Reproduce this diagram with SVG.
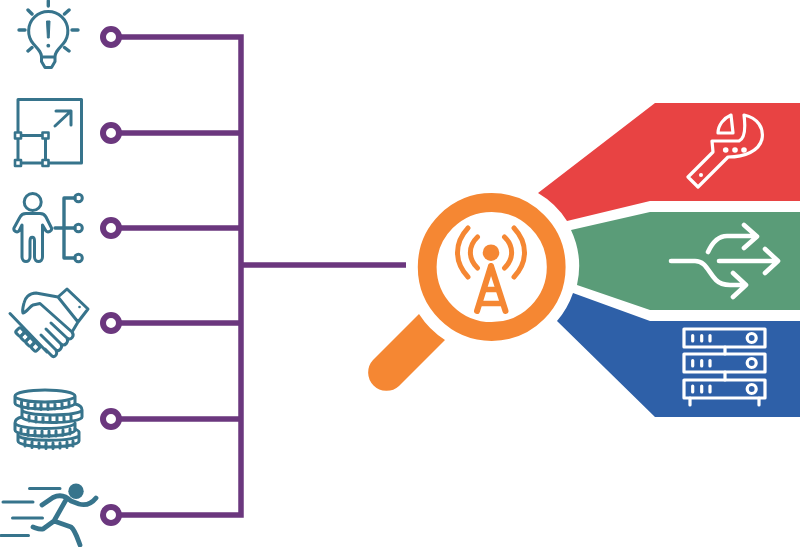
<svg xmlns="http://www.w3.org/2000/svg" width="800" height="547" viewBox="0 0 800 547">
<style>
.t{fill:none;stroke:#37748c;stroke-width:3;stroke-linecap:round;stroke-linejoin:round}
.tb{fill:none;stroke:#37748c;stroke-width:3.400;stroke-linecap:round;stroke-linejoin:round}
.w{fill:none;stroke:#fff;stroke-width:3.200;stroke-linecap:round;stroke-linejoin:round}
.wa{fill:none;stroke:#fff;stroke-width:4.600;stroke-linecap:round;stroke-linejoin:round}
.p{fill:none;stroke:#6b377e;stroke-width:5.500}
.n{fill:#fff;stroke:#6b377e;stroke-width:6}
.o{fill:none;stroke:#f58733;stroke-linecap:round;stroke-linejoin:round}
.s{fill:#fff;stroke:#37748c;stroke-width:2.600;stroke-linejoin:round}
.c{fill:#fff;stroke:#37748c;stroke-width:2.600}
</style>
<g id="connectors">
<path class="p" d="M113 37H241V515H113M113 133H241M113 228H241M113 323H241M113 419H241M241 265H406"/>
</g>
<g id="node-dots">
<circle class="n" cx="111" cy="37" r="8"/>
<circle class="n" cx="111" cy="133" r="8"/>
<circle class="n" cx="111" cy="228" r="8"/>
<circle class="n" cx="111" cy="323" r="8"/>
<circle class="n" cx="111" cy="419" r="8"/>
<circle class="n" cx="111" cy="515" r="8"/>
</g>
<g id="bulb">
<path class="t" d="M41.500 57C41.500 52 38 49 33.500 44A19.600 19.600 0 1 1 63 44C58.500 49 55 52 55 57ZM41.500 57V61.500L45 67.500H51.500L55 61.500V57"/>
<path class="tb" d="M48.300 1V6M28 10L32 14M69 10L64.500 14M19 30H25M72 30H78M28 51L32 47.500M69 51L64.500 47.500"/>
<path d="M46.500 21H50L49.200 38H47.400Z" fill="#37748c" stroke="#37748c" stroke-linejoin="round"/><circle cx="48.300" cy="45.700" r="1.900" fill="#37748c"/>
</g>
<g id="resize">
<path class="t" d="M18 135.500V99.500H81.500V163H45.500M18 135.500H45.500V163H18ZM55 126L71 111M56 111H71V125"/>
<rect class="s" x="15" y="132.500" width="6" height="6"/>
<rect class="s" x="42.500" y="132.500" width="6" height="6"/>
<rect class="s" x="15" y="160" width="6" height="6"/>
<rect class="s" x="42.500" y="160" width="6" height="6"/>
</g>
<g id="person">
<circle class="t" cx="32.700" cy="202" r="8.500"/>
<path class="t" d="M26 213.500H40C43 213.500 45 215 46 217L51.500 228C52.500 231 48 233 46 231L42.500 225V257C42.500 263 34.500 263 34.500 257V241C34.500 236 30 236 30 241V257C30 263 22 263 22 257V225L19 231C17 233 13 231 14 228L20 217C21 215 23 213.500 26 213.500Z"/>
<path class="tb" d="M55 228H75M75 198H64V258H75"/>
<circle class="t" cx="78.500" cy="198" r="3.800"/><circle class="t" cx="78.500" cy="228" r="3.800"/><circle class="t" cx="78.500" cy="258" r="3.800"/>
</g>
<g id="handshake">
<path class="t" d="M10 313.500L47 352M58 297L67 289L88 309L78 322ZM58 297L36 293C29 293 25 298 24 303C23 307 22 310 23 313C27 312 30 306 33 305L40 303.500L72 332C75 336 71 341 67 338L51 323M67 338C69 342 65 347 61 344L46 329M61 344C63 348 59 352 56 350L41 335M56 350C58 354 55 358 52 356L45 349M72 332L78 322"/>
<rect class="t" x="16.500" y="328.500" width="7" height="7" rx="2" transform="rotate(45 20 332)"/>
<rect class="t" x="21.500" y="333.500" width="7" height="7" rx="2" transform="rotate(45 25 337)"/>
<rect class="t" x="26.500" y="338.500" width="7" height="7" rx="2" transform="rotate(45 30 342)"/>
<rect class="t" x="32" y="343.500" width="7" height="7" rx="2" transform="rotate(45 35.500 347)"/>
<circle cx="79.500" cy="307" r="1.300" fill="#37748c"/>
</g>
<g id="coins">
<path class="t" d="M15 396A30 6 0 1 1 75 396A30 6 0 1 1 15 396ZM15 396V403A30 6 0 0 0 75 403V396M21.500 402V407M28 403V408.500M35 404V409M41 404V409.500M48 404V409.500M55 404V409M62 403V408.500M69 402V407"/>
<path class="t" d="M75 404C80 405 82 407 82 410V417A30 5.500 0 0 1 22 417V410A30 5 0 0 0 82 410M22 406V410M29 416V421M36 417V422M43 417V422.500M50 417V422.500M57 417V422.500M64 417V422M71 416V421"/>
<path class="t" d="M22 417C17 418 15 420 15 423V430A30 6 0 0 0 75 430V423A30 5.500 0 0 1 15 423M21 429V434M28 430V435.500M35 431V436M42 431V436.500M49 431V436.500M56 431V436M63 430V435.500M70 429V434M75 425V423"/>
<path class="t" d="M18 434V441A30.500 6 0 0 0 79 441V432C79 431 77 430 75 429M18 435.500A30.500 5 0 0 0 79 435M25 441V446M32 442V447.500M39 443V448M46 443V448.500M53 443V448.500M60 443V448M67 442V447.500M73 441V446"/>
</g>
<g id="runner">
<circle cx="76" cy="491.300" r="7.700" fill="#37748c"/>
<path d="M29.500 488.500H60M3 502H33M12.500 518H42.500M1 535.500H28.500" style="fill:none;stroke:#37748c;stroke-width:3;stroke-linecap:round"/>
<path d="M42 505L53 497.500C60 494 66 496 71 501L79 504C86 506 92 503 96 498M67 498L54 521L71 527C75 530 77 537 80 545M54 521L43 529C40 530 36 528 33 527" style="fill:none;stroke:#37748c;stroke-width:4.800;stroke-linecap:round;stroke-linejoin:round"/>
</g>
<g id="magnifier">
<circle cx="491.700" cy="267" r="64.500" style="fill:none;stroke:#f58733;stroke-width:18.800"/>
<path d="M419 314A86 86 0 0 0 445 340L399 386A18.400 18.400 0 0 1 373 360Z" fill="#f58733"/>
<circle cx="491" cy="252.700" r="8.300" fill="#f58733"/>
<path class="o" style="stroke-width:5" d="M477.500 237C468 246 468 259 477.500 268M504.500 237C514 246 514 259 504.500 268"/>
<path class="o" style="stroke-width:5" d="M468 228C454 243 454 262 468 277M514 228C528 243 528 262 514 277"/>
<path class="o" style="stroke-width:6" d="M491 266L477 311M491 266L505.500 311"/>
<path class="o" style="stroke-width:5.500;stroke-linecap:butt" d="M484 289.500H498M480 303.500H502"/>
</g>
<g id="panel-red">
<path d="M538 193L655 103H800V201H650L567 221A85 85 0 0 0 538 193Z" fill="#e84343"/>
<path class="w" d="M731 115C724 118 718 125 718 133H733ZM744 115C758 118 764 128 762 139C759 151 745 157 728 157L698 187L688 177L713 152L712 141H739C744 139 746 131 744 115Z"/>
<circle cx="725.700" cy="150" r="2.800" fill="#fff"/><circle cx="735" cy="150" r="2.800" fill="#fff"/><circle cx="744" cy="150" r="2.800" fill="#fff"/><circle cx="701" cy="175" r="2" fill="#fff"/>
</g>
<g id="panel-green">
<path d="M571 230L650 212H800V310H650L577 285A85 85 0 0 0 571 230Z" fill="#5a9c78"/>
<path class="wa" d="M708 252C713 241 719 236 727 236H755M744 225L757 236.500L744 248M671 261H695C706 261 708 272 716 280C720 284 725 285 730 285H745M733 273L746 285L733 297M719 261H777M765 249L778 261L765 273"/>
</g>
<g id="panel-blue">
<path d="M573 293L650 321H800V417H655L557 321A85 85 0 0 0 573 293Z" fill="#2e60a8"/>
<g class="w"><rect x="684" y="329" width="81" height="18"/><rect x="684" y="354" width="81" height="18"/><rect x="684" y="380" width="81" height="18"/><path d="M725 347V354M725 372V380M690 398V405M759 398V405"/>
<circle cx="751.700" cy="338" r="4.500"/><circle cx="751.700" cy="363" r="4.500"/><circle cx="751.700" cy="389" r="4.500"/>
<path d="M692.700 335.500V341M701.700 335.500V341M710 335.500V341M692.700 360.500V366M701.700 360.500V366M710 360.500V366M692.700 386V392M701.700 386V392M710 386V392"/></g>
</g>
</svg>
